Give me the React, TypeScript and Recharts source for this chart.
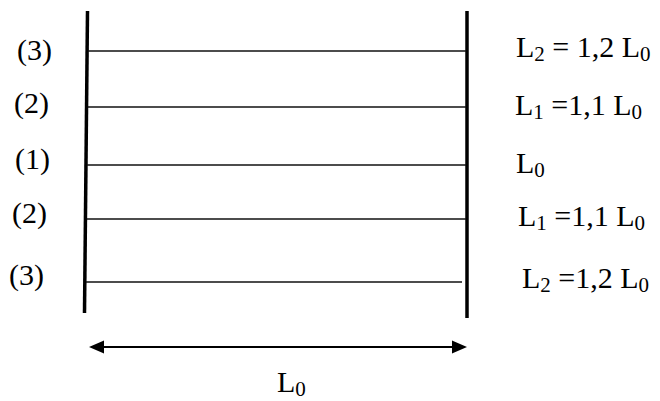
import { ComposedChart, XAxis, YAxis, ReferenceLine, Scatter } from 'recharts';

// diagram space: x and y in picture units (y grows downward)
const walls = [
  { x1: 87.5, y1: 11, x2: 84.5, y2: 313 },
  { x1: 467, y1: 11, x2: 467, y2: 318 },
];

const levels = [
  { y: 51, x1: 88, x2: 466 },
  { y: 107, x1: 88, x2: 466 },
  { y: 165, x1: 87, x2: 466 },
  { y: 219, x1: 87, x2: 466 },
  { y: 282, x1: 86, x2: 462 },
];

const leftLabels = [
  { x: 17, y: 60, text: '(3)' },
  { x: 14, y: 113, text: '(2)' },
  { x: 15, y: 169, text: '(1)' },
  { x: 12, y: 223, text: '(2)' },
  { x: 9, y: 285, text: '(3)' },
];

const rightLabels = [
  { x: 516, y: 57, text: 'L_2 = 1,2 L_0' },
  { x: 515, y: 115, text: 'L_1 =1,1 L_0' },
  { x: 516, y: 173, text: 'L_0' },
  { x: 518, y: 226, text: 'L_1 =1,1 L_0' },
  { x: 522, y: 288, text: 'L_2 =1,2 L_0' },
];

const arrow = { y: 347, x1: 89, x2: 467 };
const arrowHeads = [
  { x: 89, y: 347, dir: -1 },
  { x: 467, y: 347, dir: 1 },
];
const bottomLabels = [{ x: 277, y: 392, text: 'L_0' }];

const FONT = '"Liberation Serif", "Times New Roman", serif';
const SIZE = 30;

function parse(text: string) {
  const parts: { t: string; sub: boolean }[] = [];
  let buf = '';
  for (let i = 0; i < text.length; i++) {
    if (text[i] === '_' && i + 1 < text.length) {
      if (buf) parts.push({ t: buf, sub: false });
      buf = '';
      parts.push({ t: text[i + 1], sub: true });
      i++;
    } else {
      buf += text[i];
    }
  }
  if (buf) parts.push({ t: buf, sub: false });
  return parts;
}

function TextShape(props: any) {
  const { cx, cy, payload } = props;
  const parts = parse(payload.text);
  let shifted = false;
  return (
    <text x={cx} y={cy} fontFamily={FONT} fontSize={SIZE} fill="#000" textAnchor="start">
      {parts.map((p, i) => {
        let dy = 0;
        if (p.sub && !shifted) {
          dy = 4;
          shifted = true;
        } else if (!p.sub && shifted) {
          dy = -4;
          shifted = false;
        }
        return (
          <tspan key={i} dy={dy} fontSize={p.sub ? SIZE * 0.7 : SIZE} style={{ whiteSpace: 'pre' }}>
            {p.t}
          </tspan>
        );
      })}
    </text>
  );
}

function HeadShape(props: any) {
  const { cx, cy, payload } = props;
  const d = payload.dir;
  const len = 15;
  const half = 6.5;
  return (
    <polygon
      points={`${cx},${cy} ${cx - d * len},${cy - half} ${cx - d * len},${cy + half}`}
      fill="#000"
    />
  );
}

export default function App() {
  return (
    <div style={{ position: 'absolute', left: 0, top: 0, width: 660, height: 401, background: '#fff' }}>
      <ComposedChart width={660} height={401} margin={{ top: 0, right: 0, bottom: 0, left: 0 }}>
        <XAxis type="number" dataKey="x" domain={[0, 660]} hide />
        <YAxis type="number" dataKey="y" domain={[0, 401]} reversed hide />
        {walls.map((w, i) => (
          <ReferenceLine
            key={`w${i}`}
            segment={[{ x: w.x1, y: w.y1 }, { x: w.x2, y: w.y2 }]}
            stroke="#000"
            strokeWidth={3.5}
          />
        ))}
        {levels.map((l, i) => (
          <ReferenceLine
            key={`l${i}`}
            segment={[{ x: l.x1, y: l.y }, { x: l.x2, y: l.y }]}
            stroke="#111"
            strokeWidth={1.6}
          />
        ))}
        <ReferenceLine
          segment={[{ x: arrow.x1 + 8, y: arrow.y }, { x: arrow.x2 - 8, y: arrow.y }]}
          stroke="#000"
          strokeWidth={2}
        />
        <Scatter data={arrowHeads} shape={HeadShape} isAnimationActive={false} />
        <Scatter data={leftLabels} shape={TextShape} isAnimationActive={false} />
        <Scatter data={rightLabels} shape={TextShape} isAnimationActive={false} />
        <Scatter data={bottomLabels} shape={TextShape} isAnimationActive={false} />
      </ComposedChart>
    </div>
  );
}
